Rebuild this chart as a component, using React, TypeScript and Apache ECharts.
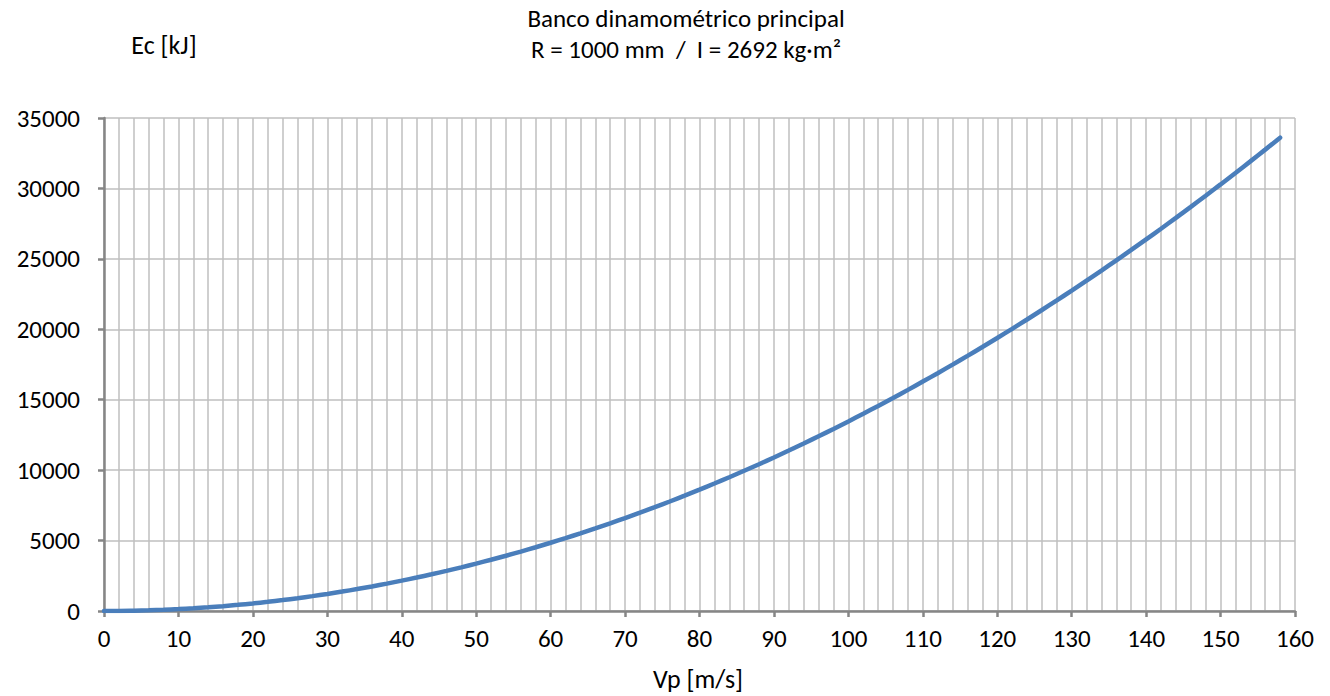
import React, { useEffect, useRef } from "react";
import * as echarts from "echarts";

// Peripheral speed [m/s] and kinetic energy [kJ]
const speeds: number[] = [
  0, 2, 4, 6, 8, 10, 12, 14, 16, 18, 20, 22, 24, 26, 28, 30, 32, 34, 36, 38,
  40, 42, 44, 46, 48, 50, 52, 54, 56, 58, 60, 62, 64, 66, 68, 70, 72, 74, 76, 78,
  80, 82, 84, 86, 88, 90, 92, 94, 96, 98, 100, 102, 104, 106, 108, 110, 112, 114, 116, 118,
  120, 122, 124, 126, 128, 130, 132, 134, 136, 138, 140, 142, 144, 146, 148, 150, 152, 154, 156, 158,
];
const energies: number[] = [
  0, 5, 22, 48, 86, 135, 194, 264, 345, 436, 538, 651, 775, 910, 1055, 1211, 1378, 1556, 1744, 1944,
  2154, 2374, 2606, 2848, 3101, 3365, 3640, 3925, 4221, 4528, 4846, 5174, 5513, 5863, 6224, 6595, 6978, 7371, 7775, 8189,
  8614, 9051, 9497, 9955, 10423, 10903, 11393, 11893, 12405, 12927, 13460, 14004, 14558, 15124, 15700, 16287, 16884, 17493, 18112, 18742,
  19382, 20034, 20696, 21369, 22053, 22747, 23453, 24169, 24896, 25633, 26382, 27141, 27911, 28691, 29483, 30285, 31097, 31921, 32755, 33600,
];

const titleLines = ["Banco dinamométrico principal", "R = 1000 mm  /  I = 2692 kg·m²"];
const yName = "Ec [kJ]";
const xName = "Vp [m/s]";

const FONT = 'Carlito, Calibri, "Liberation Sans", sans-serif';
const AXIS = "#868686";
const GRID = "#bfbfbf";

export default function App() {
  const ref = useRef<HTMLDivElement>(null);

  useEffect(() => {
    if (!ref.current) return;
    const chart = echarts.init(ref.current, undefined, { renderer: "svg" });
    const label = (text: string, x: number, y: number, size: number) => ({
      type: "text",
      x,
      y,
      style: {
        text,
        fill: "#000",
        font: `${size}px ${FONT}`,
        align: "center",
        verticalAlign: "middle",
      },
    });
    chart.setOption({
      animation: false,
      backgroundColor: "#ffffff",
      textStyle: { fontFamily: FONT },
      grid: { left: 104, right: 35, top: 118, bottom: 85 },
      graphic: [
        label(titleLines[0], 686, 18, 25),
        label(titleLines[1], 686, 49, 25),
        label(yName, 164, 45, 26),
        label(xName, 698, 679, 26),
      ],
      xAxis: {
        type: "value",
        min: 0,
        max: 160,
        interval: 10,
        axisLine: { show: true, onZero: false, lineStyle: { color: AXIS, width: 2.5 } },
        axisTick: { show: true, length: 6, lineStyle: { color: AXIS, width: 2.5 } },
        minorTick: { show: false, splitNumber: 5 },
        axisLabel: {
          color: "#000",
          fontSize: 25,
          fontFamily: FONT,
          margin: 15,
          formatter: (v: number) => String(v),
        },
        splitLine: { show: true, lineStyle: { color: GRID, width: 1.5 } },
        minorSplitLine: { show: true, lineStyle: { color: GRID, width: 1.5 } },
      },
      yAxis: {
        type: "value",
        min: 0,
        max: 35000,
        interval: 5000,
        axisLine: { show: true, lineStyle: { color: AXIS, width: 2.5 } },
        axisTick: { show: true, length: 6, lineStyle: { color: AXIS, width: 2.5 } },
        axisLabel: {
          color: "#000",
          fontSize: 25,
          fontFamily: FONT,
          margin: 24,
          formatter: (v: number) => String(v),
        },
        splitLine: { show: true, lineStyle: { color: GRID, width: 1.5 } },
      },
      series: [
        {
          type: "line",
          data: speeds.map((v, i) => [v, energies[i]]),
          showSymbol: false,
          smooth: true,
          lineStyle: { color: "#4a7ebb", width: 4.5, cap: "round" },
        },
      ],
    });
    return () => chart.dispose();
  }, []);

  return (
    <div
      ref={ref}
      style={{ position: "fixed", left: 0, top: 0, width: 1330, height: 696 }}
    />
  );
}
